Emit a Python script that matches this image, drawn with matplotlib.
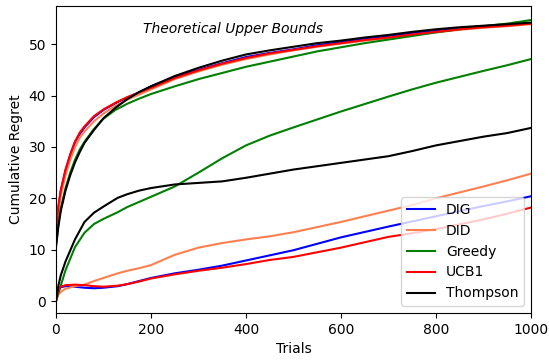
import numpy as np
import matplotlib
matplotlib.use("Agg")
import matplotlib.pyplot as plt

# algorithm names and colours
names = ['DIG', 'DID', 'Greedy', 'UCB1', 'Thompson']
colors = ['blue', 'coral', 'green', 'red', 'black']

# theoretical upper bounds
x_up = [0, 5, 10, 20, 30, 40, 50, 60, 80, 100, 125, 150, 175, 200, 250, 300,
        350, 400, 450, 500, 550, 600, 650, 700, 750, 800, 850, 900, 950, 1000]
up_dig = [12.5, 18, 21.5, 25.5, 28.5, 31, 32.5, 33.8, 35.8, 37.2, 38.5, 39.6, 40.6, 41.8, 43.6,
          45.0, 46.3, 47.5, 48.3, 49.0, 49.8, 50.4, 51.0, 51.5, 52.1, 52.6, 53.0, 53.4, 53.7, 54.1]
up_did = [13, 17.5, 20.5, 24.5, 27.5, 30, 31.8, 33, 35, 36.5, 38, 39.2, 40.2, 41.2, 43.2,
          44.7, 46, 47.1, 48, 48.8, 49.5, 50.1, 50.7, 51.2, 51.8, 52.3, 52.8, 53.2, 53.5, 53.9]
up_greedy = [11, 15, 18, 22, 25, 27.5, 29.5, 31, 33.5, 35.5, 37.2, 38.4, 39.4, 40.3, 41.8,
             43.2, 44.4, 45.6, 46.6, 47.6, 48.6, 49.4, 50.2, 50.9, 51.6, 52.3, 52.9, 53.5, 54.0, 54.7]
up_ucb = [14, 18.5, 21.5, 25.5, 28.5, 31, 32.8, 34, 36, 37.3, 38.6, 39.7, 40.6, 41.5, 43.4,
          44.9, 46.2, 47.3, 48.2, 48.9, 49.6, 50.2, 50.8, 51.3, 51.9, 52.4, 52.9, 53.3, 53.6, 54.0]
up_thompson = [10.5, 14.5, 17.5, 21.5, 24.5, 27, 29, 30.8, 33.3, 35.6, 37.6, 39.3, 40.7, 41.8, 43.8,
               45.4, 46.8, 48.0, 48.8, 49.5, 50.2, 50.7, 51.3, 51.8, 52.4, 52.9, 53.3, 53.6, 53.9, 54.2]

# observed cumulative regret
x_obs = [0, 5, 10, 20, 40, 60, 80, 100, 130, 150, 175, 200, 250, 300, 350, 400,
         450, 500, 600, 700, 750, 800, 900, 950, 1000]
dig = [0, 2.0, 2.7, 2.9, 2.8, 2.6, 2.5, 2.6, 2.9, 3.3, 3.9, 4.5, 5.4, 6.1, 6.9, 7.9,
       8.9, 9.9, 12.4, 14.5, 15.5, 16.5, 18.5, 19.4, 20.4]
did = [0, 1.3, 1.8, 2.4, 2.9, 3.2, 3.9, 4.5, 5.4, 5.9, 6.4, 7.0, 9.0, 10.4, 11.3, 12.0,
       12.6, 13.4, 15.4, 17.6, 18.7, 20.0, 22.3, 23.5, 24.8]
greedy = [0, 1.6, 3.0, 6.0, 10.5, 13.3, 15.0, 16.0, 17.3, 18.3, 19.3, 20.3, 22.3, 25.0, 27.8, 30.3,
          32.2, 33.8, 36.9, 39.8, 41.2, 42.5, 44.8, 45.9, 47.1]
ucb = [0, 2.2, 2.8, 3.1, 3.2, 3.1, 2.9, 2.8, 3.0, 3.3, 3.8, 4.4, 5.2, 5.9, 6.5, 7.2,
       8.0, 8.6, 10.4, 12.5, 13.2, 14.0, 15.9, 17.0, 18.2]
thompson = [0, 3.0, 5.0, 7.7, 12.0, 15.4, 17.2, 18.4, 20.1, 20.8, 21.5, 22.0, 22.7, 23.0, 23.3, 24.0,
            24.8, 25.6, 26.9, 28.2, 29.2, 30.3, 32.0, 32.7, 33.7]

upper = [up_dig, up_did, up_greedy, up_ucb, up_thompson]
lower = [dig, did, greedy, ucb, thompson]

fig = plt.figure(figsize=(5.49, 3.63), dpi=100)
ax = fig.add_axes([0.102, 0.138, 0.865, 0.845])

for up, c in zip(upper, colors):
    ax.plot(x_up, up, color=c, lw=1.5)
for lo, c, n in zip(lower, colors, names):
    ax.plot(x_obs, lo, color=c, lw=1.5, label=n)

ax.text(372, 53.0, 'Theoretical Upper Bounds', style='italic', fontsize=10,
        ha='center', va='center')

ax.set_xlim(0, 1000)
ax.set_ylim(-2.3, 57.4)
ax.set_xlabel('Trials')
ax.set_ylabel('Cumulative Regret')
ax.legend(loc='lower right')

plt.savefig('out.png', dpi=100)
